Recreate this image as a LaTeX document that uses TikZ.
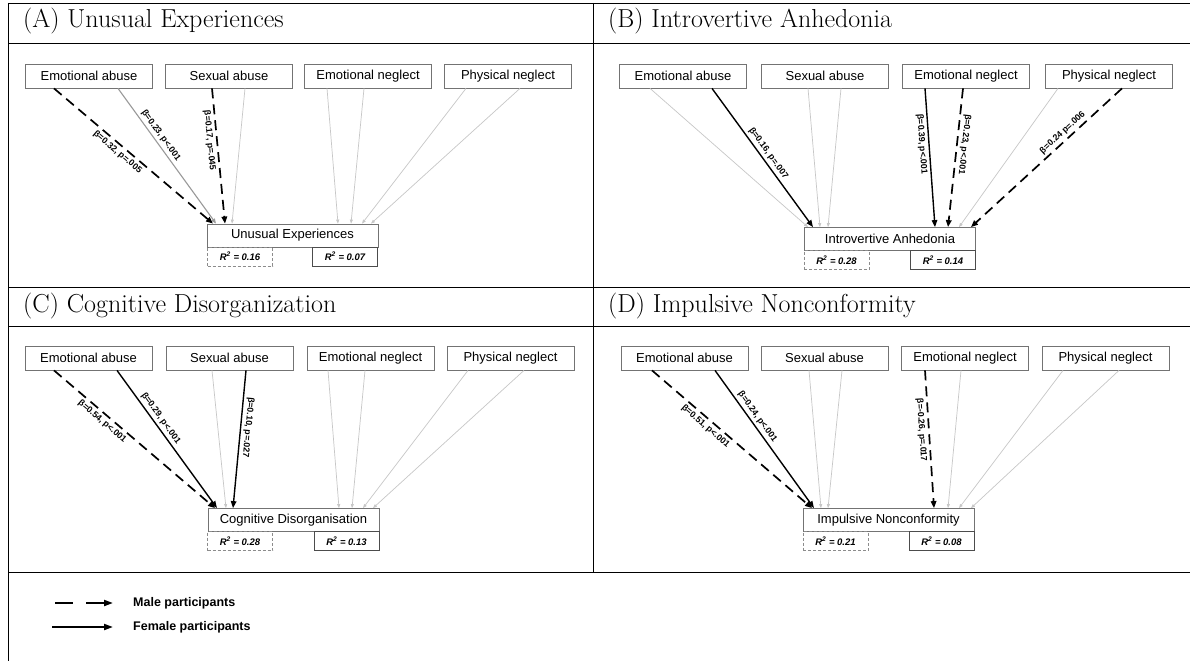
\documentclass[tikz,border=0pt]{standalone}
\usepackage{fontspec}
\setsansfont{Liberation Sans}
\usetikzlibrary{arrows.meta}
\tikzset{
  pbox/.style={draw=black!55, line width=0.8pt, fill=white, minimum width=127pt, minimum height=24pt, inner sep=0pt, font=\sffamily\fontsize{13}{15}\selectfont},
  obox/.style={pbox, minimum width=171pt, minimum height=23pt},
  rm/.style={draw=black!45, dash pattern=on 3pt off 2pt, line width=0.7pt, minimum width=65pt, minimum height=19pt, inner sep=0pt, font=\sffamily\bfseries\itshape\fontsize{9.5}{11}\selectfont},
  rf/.style={rm, solid, draw=black!70},
  male/.style={black, line width=1.7pt, dash pattern=on 10pt off 6pt, -{Triangle[length=7pt,width=5.5pt]}},
  female/.style={black, line width=1.4pt, -{Triangle[length=7pt,width=5.5pt]}},
  midf/.style={black!40, line width=1.1pt, -{Triangle[length=5pt,width=4pt]}},
  ns/.style={black!22, line width=0.7pt, -{Triangle[length=4pt,width=3pt]}},
  lbl/.style={text=black, font=\sffamily\bfseries\fontsize{8.8}{10}\selectfont, inner sep=2.5pt, sloped},
  ttl/.style={anchor=base west, font=\fontsize{26}{30}\selectfont, inner sep=0pt},
  tline/.style={black, line width=0.9pt},
  leg/.style={anchor=west, font=\sffamily\bfseries\fontsize{12.5}{14}\selectfont, inner sep=0pt}
}
\begin{document}
\begin{tikzpicture}[x=1pt,y=-1pt]
\useasboundingbox (0,0) rectangle (1190,661);
\fill[white] (0,0) rectangle (1190,661);
% table frame
\draw[tline] (8,3) -- (1190,3);
\draw[tline] (8,43) -- (1190,43);
\draw[tline] (8,287) -- (1190,287);
\draw[tline] (8,326) -- (1190,326);
\draw[tline] (8,572) -- (1190,572);
\draw[tline] (8,3) -- (8,661);
\draw[tline] (593,3) -- (593,572);
% titles
\node[ttl] (ta) at (23,28) {(A) Unusual Experiences};
\node[ttl] (tb) at (608,28) {(B) Introvertive Anhedonia};
\node[ttl] (tc) at (23,312) {(C) Cognitive Disorganization};
\node[ttl] (td) at (608,312) {(D) Impulsive Nonconformity};

% ---------- Panel A
\node[pbox] (aea) at (89,76) {Emotional abuse};
\node[pbox] (asa) at (229,76) {Sexual abuse};
\node[pbox] (aen) at (368,76) {Emotional neglect};
\node[pbox] (apn) at (508,76) {Physical neglect};
\node[obox] (aout) at (292.5,235.5) {Unusual Experiences};
\node[rm] (arm) at (240,256.5) {R\textsuperscript{2} = 0.16};
\node[rf] (arf) at (345,256.5) {R\textsuperscript{2} = 0.07};
\draw[male] ([xshift=-35pt]aea.south) -- node[lbl,below,pos=.43]{β=0.32, p=.005} ([xshift=-79.5pt]aout.north);
\draw[midf] ([xshift=29pt]aea.south) -- node[lbl,above,pos=.38]{β=0.23, p<.001} ([xshift=-76.5pt]aout.north);
\draw[male] ([xshift=-17pt]asa.south) -- node[lbl,below,pos=.38]{β=0.17, p=.045} ([xshift=-67.5pt]aout.north);
\draw[ns] ([xshift=16pt]asa.south) -- ([xshift=-60.5pt]aout.north);
\draw[ns] ([xshift=-41pt]aen.south) -- ([xshift=45.5pt]aout.north);
\draw[ns] ([xshift=-4pt]aen.south) -- ([xshift=58.5pt]aout.north);
\draw[ns] ([xshift=-42pt]apn.south) -- ([xshift=69.5pt]aout.north);
\draw[ns] ([xshift=12pt]apn.south) -- ([xshift=78.5pt]aout.north);

% ---------- Panel B
\node[pbox] (bea) at (683,76) {Emotional abuse};
\node[pbox] (bsa) at (825,76) {Sexual abuse};
\node[pbox] (ben) at (966,76) {Emotional neglect};
\node[pbox] (bpn) at (1109,76) {Physical neglect};
\node[obox] (bout) at (890,239) {Introvertive Anhedonia};
\node[rm] (brm) at (836.5,260) {R\textsuperscript{2} = 0.28};
\node[rf] (brf) at (943,260) {R\textsuperscript{2} = 0.14};
\draw[ns] ([xshift=-33pt]bea.south) -- ([xshift=-82pt]bout.north);
\draw[female] ([xshift=29pt]bea.south) -- node[lbl,above,pos=.5]{β=0.16, p=.007} ([xshift=-77pt]bout.north);
\draw[ns] ([xshift=-17pt]bsa.south) -- ([xshift=-70pt]bout.north);
\draw[ns] ([xshift=16pt]bsa.south) -- ([xshift=-62pt]bout.north);
\draw[female] ([xshift=-41pt]ben.south) -- node[lbl,below,pos=.4]{β=0.39, p<.001} ([xshift=45pt]bout.north);
\draw[male] ([xshift=-3pt]ben.south) -- node[lbl,above,pos=.4,allow upside down]{β=0.23, p<.001} ([xshift=58pt]bout.north);
\draw[ns] ([xshift=-51pt]bpn.south) -- ([xshift=69pt]bout.north);
\draw[male] ([xshift=13pt]bpn.south) -- node[lbl,above,pos=.36]{β=0.24 p=.006} ([xshift=81pt]bout.north);

% ---------- Panel C
\node[pbox] (cea) at (88.5,358) {Emotional abuse};
\node[pbox] (csa) at (229.5,358) {Sexual abuse};
\node[pbox] (cen) at (370.5,358) {Emotional neglect};
\node[pbox] (cpn) at (510.5,358) {Physical neglect};
\node[obox] (cout) at (293.5,520) {Cognitive Disorganisation};
\node[rm] (crm) at (240,541) {R\textsuperscript{2} = 0.28};
\node[rf] (crf) at (346.5,541) {R\textsuperscript{2} = 0.13};
\draw[male] ([xshift=-34.5pt]cea.south) -- node[lbl,below,pos=.33]{β=0.54, p<.001} ([xshift=-78.5pt]cout.north);
\draw[female] ([xshift=28.5pt]cea.south) -- node[lbl,above,pos=.38]{β=0.29, p<.001} ([xshift=-76.5pt]cout.north);
\draw[ns] ([xshift=-17.5pt]csa.south) -- ([xshift=-67.5pt]cout.north);
\draw[female] ([xshift=16.5pt]csa.south) -- node[lbl,above,pos=.41,allow upside down]{β=0.10, p=.027} ([xshift=-60.5pt]cout.north);
\draw[ns] ([xshift=-42.5pt]cen.south) -- ([xshift=45.5pt]cout.north);
\draw[ns] ([xshift=-5.5pt]cen.south) -- ([xshift=58.5pt]cout.north);
\draw[ns] ([xshift=-42.5pt]cpn.south) -- ([xshift=69.5pt]cout.north);
\draw[ns] ([xshift=13.5pt]cpn.south) -- ([xshift=79.5pt]cout.north);

% ---------- Panel D
\node[pbox] (dea) at (684.5,358) {Emotional abuse};
\node[pbox] (dsa) at (824.5,358) {Sexual abuse};
\node[pbox] (den) at (965,358) {Emotional neglect};
\node[pbox] (dpn) at (1105.5,358) {Physical neglect};
\node[obox] (dout) at (888.5,520) {Impulsive Nonconformity};
\node[rm] (drm) at (835.5,541) {R\textsuperscript{2} = 0.21};
\node[rf] (drf) at (941.5,541) {R\textsuperscript{2} = 0.08};
\draw[male] ([xshift=-32.5pt]dea.south) -- node[lbl,below,pos=.365]{β=0.51, p<.001} ([xshift=-76.5pt]dout.north);
\draw[female] ([xshift=30.5pt]dea.south) -- node[lbl,above,pos=.37]{β=0.24, p<.001} ([xshift=-74.5pt]dout.north);
\draw[ns] ([xshift=-15.5pt]dsa.south) -- ([xshift=-67.5pt]dout.north);
\draw[ns] ([xshift=17.5pt]dsa.south) -- ([xshift=-60.5pt]dout.north);
\draw[male] ([xshift=-40pt]den.south) -- node[lbl,below,pos=.43]{β=-0.26, p=.017} ([xshift=45.5pt]dout.north);
\draw[ns] ([xshift=-4pt]den.south) -- ([xshift=59.5pt]dout.north);
\draw[ns] ([xshift=-42.5pt]dpn.south) -- ([xshift=70.5pt]dout.north);
\draw[ns] ([xshift=13.5pt]dpn.south) -- ([xshift=82.5pt]dout.north);

% ---------- Legend
\coordinate (lm0) at (55,603);
\coordinate (lm1) at (113,603);
\coordinate (lf0) at (52,627);
\coordinate (lf1) at (113,627);
\draw[black, line width=2pt, dash pattern=on 18pt off 13pt, -{Triangle[length=9pt,width=6pt]}] (lm0) -- (lm1);
\draw[black, line width=2pt, -{Triangle[length=9pt,width=6pt]}] (lf0) -- (lf1);
\node[leg] (lmt) at (133,603) {Male participants};
\node[leg] (lft) at (133,627) {Female participants};
\end{tikzpicture}
\end{document}
